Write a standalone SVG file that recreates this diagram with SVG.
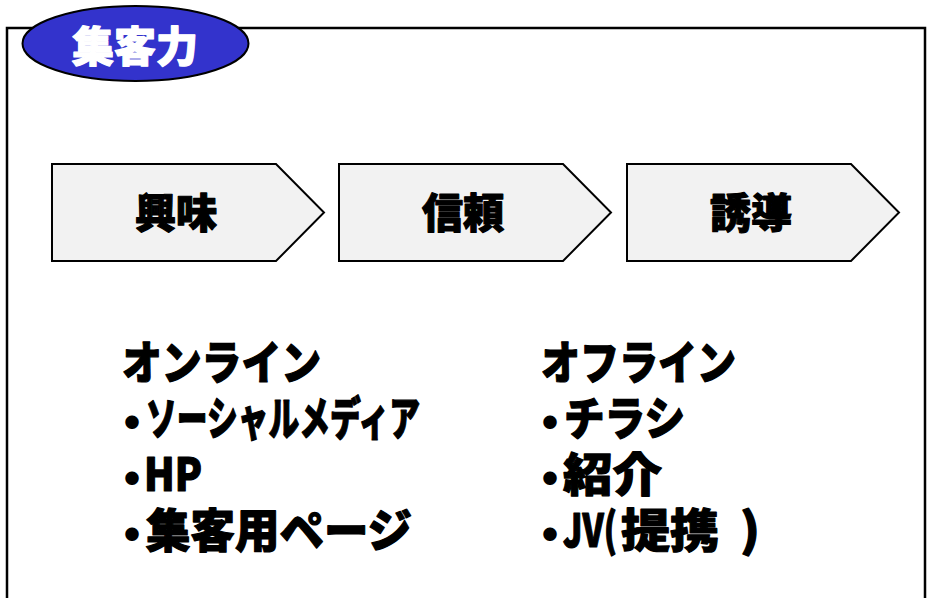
<svg xmlns="http://www.w3.org/2000/svg" width="929" height="598" viewBox="0 0 929 598">
<style>
.frame{fill:#FFFFFF;stroke:#000000;stroke-width:2.5}
.step{fill:#F2F2F2;stroke:#000000;stroke-width:2}
.badge{fill:#3333CC;stroke:#000000;stroke-width:2}
.t{font-family:"Noto Sans CJK JP","Liberation Sans",sans-serif;font-weight:900;stroke-linejoin:round}
.step-label{font-size:41px;fill:#000000;stroke:#000000;stroke-width:1.2;text-anchor:middle}
.badge-label{font-size:42px;fill:#FFFFFF;stroke:#FFFFFF;stroke-width:1.2;text-anchor:middle}
.list{font-size:46px;fill:#000000;stroke:#000000;stroke-width:1.2}
.dot{font-size:48px;stroke-width:0}
</style>
<rect width="929" height="598" fill="#FFFFFF"/>
<g id="frame">
<path class="frame" d="M7,610 L7,28 L925,28 L925,610"/>
</g>
<g id="badge">
<ellipse class="badge" cx="135.5" cy="43.5" rx="113" ry="37.5"/>
<text class="t badge-label" x="135" y="62">集客力</text>
</g>
<g id="connectors"></g>
<g id="step-interest">
<path class="step" d="M52,164 L276,164 L324,212.5 L276,261 L52,261 Z"/>
<text class="t step-label" x="176" y="228">興味</text>
</g>
<g id="step-trust">
<path class="step" d="M339,164 L563,164 L611,212.5 L563,261 L339,261 Z"/>
<text class="t step-label" x="463" y="228">信頼</text>
</g>
<g id="step-guide">
<path class="step" d="M627,164 L851,164 L899,212.5 L851,261 L627,261 Z"/>
<text class="t step-label" x="751" y="228">誘導</text>
</g>
<g id="online">
<text class="t list" x="122" y="379" textLength="199" lengthAdjust="spacingAndGlyphs">オンライン</text>
<text class="t list"><tspan class="dot" x="108" y="440">・</tspan><tspan x="146" y="435" textLength="274" lengthAdjust="spacingAndGlyphs">ソーシャルメディア</tspan></text>
<text class="t list"><tspan class="dot" x="108" y="496">・</tspan><tspan x="144" y="491" textLength="58" lengthAdjust="spacingAndGlyphs">HP</tspan></text>
<text class="t list"><tspan class="dot" x="108" y="552">・</tspan><tspan x="146" y="547" textLength="266" lengthAdjust="spacingAndGlyphs">集客用ページ</tspan></text>
</g>
<g id="offline">
<text class="t list" x="541" y="379" textLength="195" lengthAdjust="spacingAndGlyphs">オフライン</text>
<text class="t list"><tspan class="dot" x="526" y="440">・</tspan><tspan x="564" y="435" textLength="121" lengthAdjust="spacingAndGlyphs">チラシ</tspan></text>
<text class="t list"><tspan class="dot" x="526" y="496">・</tspan><tspan x="563" y="491" textLength="99" lengthAdjust="spacingAndGlyphs">紹介</tspan></text>
<text class="t list"><tspan class="dot" x="526" y="552">・</tspan><tspan x="563" y="547" textLength="54" lengthAdjust="spacingAndGlyphs">JV(</tspan> <tspan x="621" y="547" textLength="98" lengthAdjust="spacingAndGlyphs">提携</tspan> <tspan x="740" y="547" textLength="20" lengthAdjust="spacingAndGlyphs">)</tspan></text>
</g>
</svg>
